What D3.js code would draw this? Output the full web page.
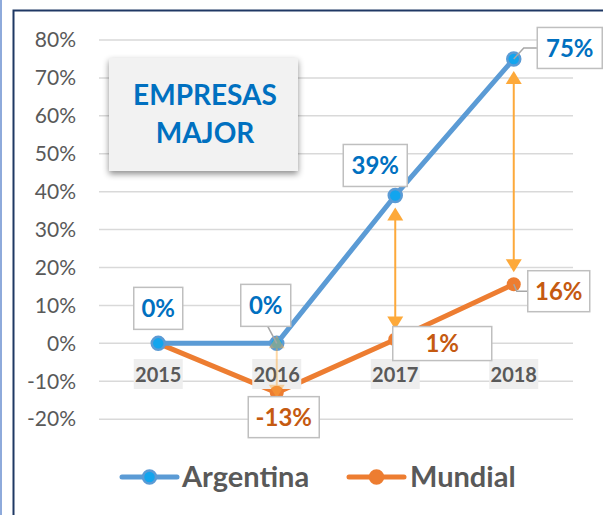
<!DOCTYPE html>
<html><head><meta charset="utf-8">
<script src="https://cdn.jsdelivr.net/npm/d3@7"></script>
<style>html,body{margin:0;padding:0;background:#fff;}svg{display:block;font-family:Lato,"Open Sans",sans-serif;}</style>
</head><body>
<script>
const years = ["2015","2016","2017","2018"];
const argentina = [0, 0, 0.39, 0.75];
const mundial = [0, -0.13, 0.01, 0.156];
const yTicks = [-0.2,-0.1,0,0.1,0.2,0.3,0.4,0.5,0.6,0.7,0.8];
const seriesNames = ["Argentina","Mundial"];
const titleLines = ["EMPRESAS","MAJOR"];

const W=603,H=515;
const svg=d3.select("body").append("svg").attr("width",W).attr("height",H);
const defs=svg.append("defs");
const f=defs.append("filter").attr("id","sh").attr("x","-20%").attr("y","-20%").attr("width","140%").attr("height","150%");
f.append("feDropShadow").attr("dx",0).attr("dy",3).attr("stdDeviation",3).attr("flood-color","#000").attr("flood-opacity",0.45);

// frame
svg.append("rect").attr("x",0).attr("y",0).attr("width",2).attr("height",H).attr("fill","#8eaadb");
svg.append("rect").attr("x",13.5).attr("y",10.5).attr("width",W).attr("height",H).attr("fill","none").attr("stroke","#1f3864").attr("stroke-width",2);

const x=d3.scalePoint().domain(years).range([99,573]).padding(0.5);
const y=d3.scaleLinear().domain([-0.2,0.8]).range([419.2,40]);
const fmt=d3.formatLocale({decimal:".",thousands:",",grouping:[3],currency:["","%"],minus:"-"}).format(".0%");

// grid
svg.append("g").selectAll("line").data(yTicks).join("line")
 .attr("x1",99).attr("x2",573).attr("y1",d=>y(d)).attr("y2",d=>y(d))
 .attr("stroke","#d9d9d9").attr("stroke-width",1.5);
// y axis labels
const yAxis=d3.axisLeft(y).tickValues(yTicks).tickFormat(fmt).tickSize(0).tickPadding(0);
const ga=svg.append("g").attr("transform","translate(76,0)").call(yAxis);
ga.select(".domain").remove();
ga.selectAll("text").attr("font-size",21).attr("fill","#595959").attr("font-family","Lato");

// title box
const tb=svg.append("g");
tb.append("rect").attr("x",109).attr("y",58).attr("width",189).attr("height",113).attr("fill","#f2f2f2").attr("filter","url(#sh)");
tb.selectAll("text").data(titleLines).join("text")
 .attr("x",205).attr("y",(d,i)=>105+i*38).attr("text-anchor","middle")
 .attr("font-size",28).attr("font-weight",700).attr("fill","#0070c0").text(d=>d);

// lines
const line=d3.line().x((d,i)=>x(years[i])).y(d=>y(d));
svg.append("path").datum(mundial).attr("d",line).attr("fill","none").attr("stroke","#ed7d31").attr("stroke-width",5).attr("stroke-linejoin","round");
svg.append("path").datum(argentina).attr("d",line).attr("fill","none").attr("stroke","#5b9bd5").attr("stroke-width",5).attr("stroke-linejoin","round");

// category labels
const cl=svg.append("g").selectAll("g").data(years).join("g").attr("transform",d=>`translate(${x(d)},375)`);
cl.append("rect").attr("x",-24.5).attr("y",-16).attr("width",49).attr("height",30).attr("fill","#eeeeee");
cl.append("text").attr("text-anchor","middle").attr("dy","0.35em").attr("font-size",20).attr("font-weight",700).attr("fill","#595959").text(d=>d);

// markers
svg.append("g").selectAll("circle").data(mundial).join("circle")
 .attr("cx",(d,i)=>x(years[i])).attr("cy",d=>y(d)).attr("r",7).attr("fill","#ed7d31");
svg.append("g").selectAll("circle").data(argentina).join("circle")
 .attr("cx",(d,i)=>x(years[i])).attr("cy",d=>y(d)).attr("r",6.5).attr("fill","#12a5ee").attr("stroke","#5b9bd5").attr("stroke-width",2.5);

// arrows
const arrowIdx=[1,2,3];
const gapTop=[-8,12,12], gapBot=[-5,10,12], arrowOp=[0.45,1,1];
const ag=svg.append("g");
arrowIdx.forEach((k,j)=>{
  const cx=x(years[k]);
  const t=y(argentina[k])+gapTop[j], b=y(mundial[k])-gapBot[j];
  const g=ag.append("g").attr("opacity",arrowOp[j]);
  g.append("line").attr("x1",cx).attr("x2",cx).attr("y1",t+10).attr("y2",b-10).attr("stroke","#fda93a").attr("stroke-width",2);
  g.append("path").attr("d",`M${cx},${t}L${cx-8},${t+13}L${cx+8},${t+13}Z`).attr("fill","#fda93a");
  g.append("path").attr("d",`M${cx},${b}L${cx-8},${b-13}L${cx+8},${b-13}Z`).attr("fill","#fda93a");
});

// data labels
const argLab=[{dx:0,dy:-35,w:49,h:42},{dx:-11,dy:-38,w:50,h:42,lead:true},{dx:-20,dy:-30,w:64,h:42},{dx:56,dy:-11,w:65,h:41,lead:true}];
const munLab=[null,{dx:7,dy:24.5,w:71,h:41},{dx:47,dy:4,w:99,h:34},{dx:45,dy:7,w:62,h:41,lead:true}];
function drawLabels(vals,labs,color){
  const g=svg.append("g");
  vals.forEach((v,i)=>{
    const L=labs[i]; if(!L) return;
    const px=x(years[i]), py=y(v);
    const cx=px+L.dx, cy=py+L.dy;
    if(L.lead){
      let pts;
      if(L.dx>0 && L.dy<0) pts=[[px,py],[px+10,cy],[cx-L.w/2,cy]];
      else if(L.dx>0) pts=[[px,py],[px+3,cy],[cx-L.w/2,cy]];
      else pts=[[px,py],[cx+2,cy+L.h/2]];
      g.append("path").attr("d",d3.line()(pts)).attr("fill","none").attr("stroke","#a6a6a6").attr("stroke-width",1.5);
    }
    g.append("rect").attr("x",cx-L.w/2).attr("y",cy-L.h/2).attr("width",L.w).attr("height",L.h).attr("fill","#fff").attr("stroke","#bfbfbf").attr("stroke-width",1.5);
    g.append("text").attr("x",cx).attr("y",cy).attr("dy","0.36em").attr("text-anchor","middle").attr("font-size",24).attr("font-weight",700).attr("fill",color).text(fmt(v));
  });
}
drawLabels(argentina,argLab,"#0070c0");
drawLabels(mundial,munLab,"#c55a11");

// legend
const leg=[{x0:122,x1:177,c:"#5b9bd5",fill:"#12a5ee",tx:182},{x0:349,x1:404,c:"#ed7d31",fill:"#ed7d31",tx:410}];
const lg=svg.append("g").selectAll("g").data(seriesNames).join("g");
lg.append("line").attr("x1",(d,i)=>leg[i].x0).attr("x2",(d,i)=>leg[i].x1).attr("y1",477).attr("y2",477)
 .attr("stroke",(d,i)=>leg[i].c).attr("stroke-width",5).attr("stroke-linecap","round");
lg.append("circle").attr("cx",(d,i)=>(leg[i].x0+leg[i].x1)/2).attr("cy",477).attr("r",6.5)
 .attr("fill",(d,i)=>leg[i].fill).attr("stroke",(d,i)=>leg[i].c).attr("stroke-width",2.5);
lg.append("text").attr("x",(d,i)=>leg[i].tx).attr("y",487).attr("font-size",29).attr("font-weight",700).attr("fill","#595959").text(d=>d);
</script>
</body></html>
